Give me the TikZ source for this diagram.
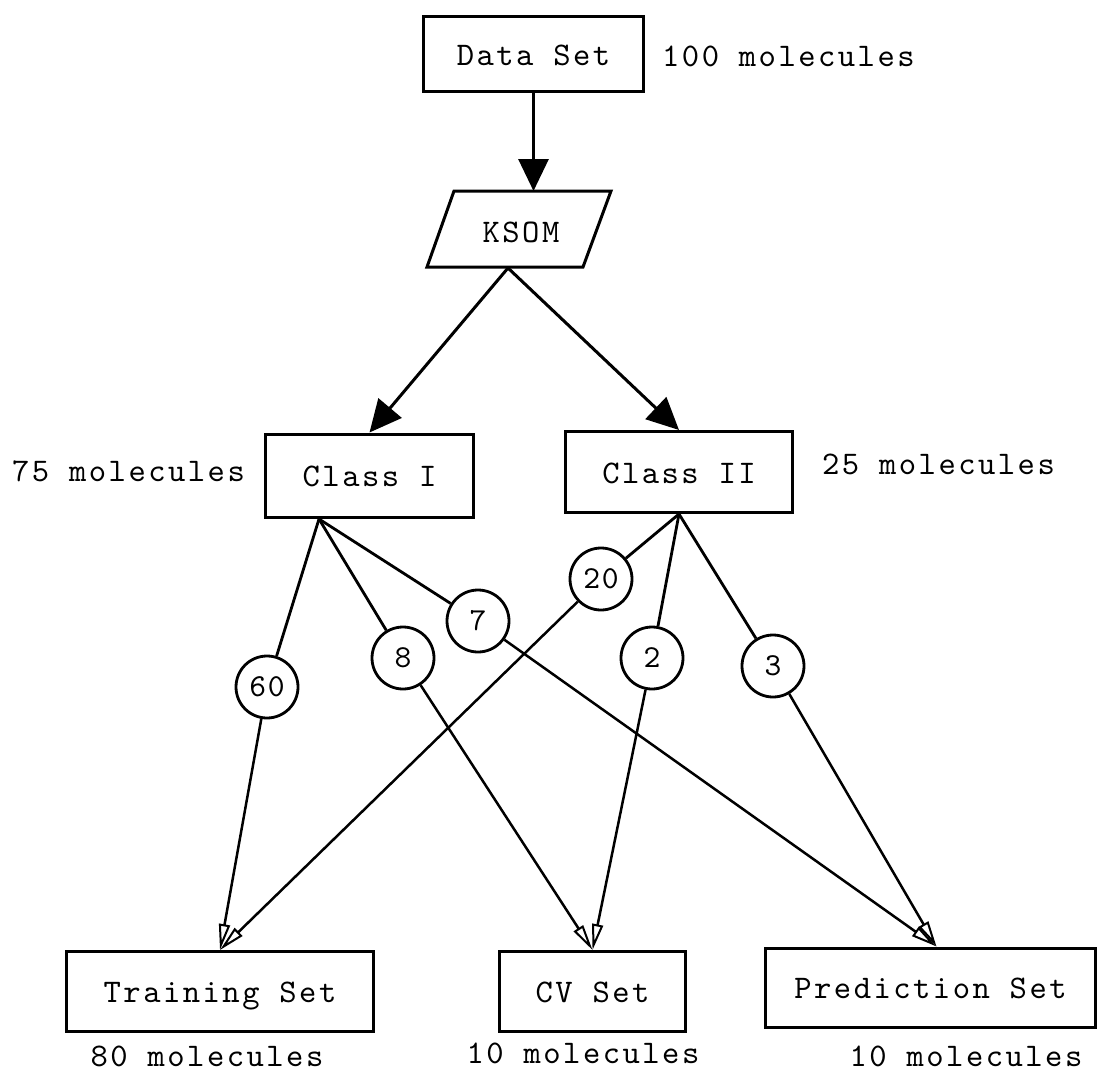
\documentclass[tikz,border=0pt]{standalone}
\usepackage{fontspec}
\usetikzlibrary{arrows.meta,calc}
\newfontfamily\molmono[LetterSpace=7.5]{lmmono10-regular.otf}
\newfontfamily\nummono[LetterSpace=5]{lmmono10-regular.otf}
\newcommand\molfont{\fontsize{33}{40}\selectfont\molmono}
\newcommand\numfont{\fontsize{32}{38}\selectfont\nummono}
\begin{document}
\begin{tikzpicture}[x=1pt,y=-1pt,
  txt/.style={font=\molfont, inner sep=0pt},
  box/.style={draw, line width=3pt, font=\molfont, inner sep=0pt, text height=22pt, text depth=0pt},
  num/.style={draw, circle, fill=white, line width=2.8pt, minimum size=62pt, inner sep=0pt, font=\numfont},
  big/.style={line width=3pt, -{Triangle[length=32pt,width=30pt]}},
  thinarrow/.style={line width=2.5pt, -{Triangle[open,length=26pt,width=11pt,line width=2pt]}},
  plain/.style={line width=2.8pt}]
\useasboundingbox (0,0) rectangle (1106,1074);

% top
\node[box, minimum width=220pt, minimum height=75pt] (data) at (533.5,54) {Data Set};
\node[txt, anchor=base west] (l100) at (662,66) {100 molecules};

% KSOM parallelogram
\draw[line width=3pt, line join=miter] (427,267) -- (583,267) -- (611,191) -- (454,191) -- cycle;
\node[txt, anchor=base] (ksom) at (521,242) {KSOM};
\coordinate (ksomtop) at (533.5,191);
\coordinate (ksombot) at (508,268);

% classes
\node[box, minimum width=208pt, minimum height=83pt] (class1) at (369.5,475.5) {Class I};
\node[box, minimum width=227pt, minimum height=81pt] (class2) at (679,472) {Class II};
\node[txt, anchor=base west] (l75) at (12,481) {75 molecules};
\node[txt, anchor=base west] (l25) at (822,474) {25 molecules};
\coordinate (c1out) at (319,519);

\draw[big] (data.south) -- (ksomtop);
\draw[big] (ksombot) -- (class1.north);
\draw[big] (ksombot) -- (class2.north);

% circles
\node[num] (n60) at (267,687) {60};
\node[num] (n8) at (403,658) {8};
\node[num] (n7) at (478,621) {7};
\node[num] (n20) at (601,579) {20};
\node[num] (n2) at (652,658) {2};
\node[num] (n3) at (773,666) {3};

% bottom
\node[box, minimum width=307pt, minimum height=80pt] (train) at (220,991.5) {Training Set};
\node[box, minimum width=186pt, minimum height=80pt] (cv) at (592.5,991.5) {CV Set};
\node[box, minimum width=330pt, minimum height=79pt] (pred) at (930.5,987.5) {Prediction Set};
\node[txt, anchor=base] (l80) at (207,1066) {80 molecules};
\node[txt, anchor=base] (l10a) at (583,1063) {10 molecules};
\node[txt, anchor=base] (l10b) at (966,1066) {10 molecules};
\coordinate (predtip) at ($(pred.north)+(6,0)$);

% class -> circles
\draw[plain] (c1out) -- (n60);
\draw[plain] (c1out) -- (n8);
\draw[plain] (c1out) -- (n7);
\draw[plain] (class2.south) -- (n20);
\draw[plain] (class2.south) -- (n2);
\draw[plain] (class2.south) -- (n3);

% circles -> sets
\draw[thinarrow] (n60) -- (train.north);
\draw[thinarrow] (n20) -- (train.north);
\draw[thinarrow] (n8) -- (cv.north);
\draw[thinarrow] (n2) -- (cv.north);
\draw[thinarrow] (n7) -- (predtip);
\draw[thinarrow] (n3) -- (predtip);
\end{tikzpicture}
\end{document}
